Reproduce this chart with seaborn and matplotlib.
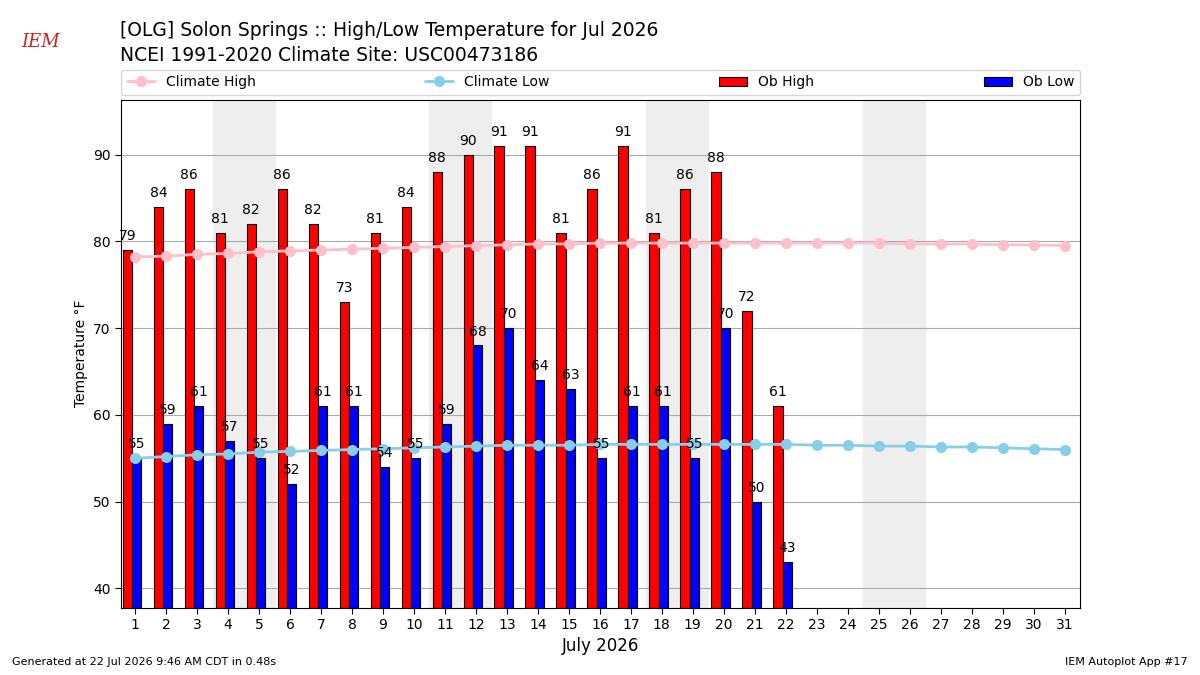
import numpy as np
import pandas as pd
import matplotlib
matplotlib.use('Agg')
import matplotlib.pyplot as plt
import seaborn as sns

days = np.arange(1, 32)
ob_days = np.arange(1, 23)
ob_high = [79, 84, 86, 81, 82, 86, 82, 73, 81, 84, 88, 90, 91, 91, 81, 86, 91, 81, 86, 88, 72, 61]
ob_low = [55, 59, 61, 57, 55, 52, 61, 61, 54, 55, 59, 68, 70, 64, 63, 55, 61, 61, 55, 70, 50, 43]
clim_high = [78.2, 78.3, 78.5, 78.6, 78.8, 78.9, 79.0, 79.1, 79.2, 79.3, 79.4, 79.5, 79.6, 79.7, 79.7, 79.8,
             79.8, 79.8, 79.8, 79.8, 79.8, 79.8, 79.8, 79.8, 79.8, 79.7, 79.7, 79.7, 79.6, 79.6, 79.5]
clim_low = [55.0, 55.2, 55.4, 55.5, 55.7, 55.8, 55.9, 56.0, 56.1, 56.2, 56.3, 56.4, 56.5, 56.5, 56.5, 56.6,
            56.6, 56.6, 56.6, 56.6, 56.6, 56.6, 56.5, 56.5, 56.4, 56.4, 56.3, 56.3, 56.2, 56.1, 56.0]
weekends = [4, 11, 18, 25]

sns.set_style('white')
plt.rcParams.update({'text.color': 'black', 'axes.labelcolor': 'black',
                     'xtick.color': 'black', 'ytick.color': 'black'})
fig = plt.figure(figsize=(12, 6.75), dpi=100)
ax = fig.add_axes([0.101, 0.1, 0.799, 0.752])

for w in weekends:
    ax.axvspan(w - 0.5, w + 1.5, color='#eeeeee', zorder=0)
ax.grid(axis='y', color='#aaaaaa', lw=0.8, zorder=1)
ax.set_axisbelow(True)

df = pd.DataFrame({'day': days, 'hi': clim_high, 'lo': clim_low})
sns.lineplot(data=df, x='day', y='hi', color='pink', marker='o', markersize=8, markeredgewidth=0,
             lw=2, ax=ax, label='Climate High', zorder=3)
sns.lineplot(data=df, x='day', y='lo', color='skyblue', marker='o', markersize=8, markeredgewidth=0,
             lw=2, ax=ax, label='Climate Low', zorder=3)

ax.bar(ob_days - 0.4, ob_high, 0.3, align='edge', color='red', edgecolor='k', lw=0.8, label='Ob High', zorder=2)
ax.bar(ob_days - 0.1, ob_low, 0.3, align='edge', color='blue', edgecolor='k', lw=0.8, label='Ob Low', zorder=2)
for d, v in zip(ob_days, ob_high):
    ax.text(d - 0.25, v + 0.8, str(v), ha='center', va='bottom', fontsize=10, zorder=5)
for d, v in zip(ob_days, ob_low):
    ax.text(d + 0.05, v + 0.8, str(v), ha='center', va='bottom', fontsize=10, zorder=5)

ax.set_xlim(0.55, 31.5)
ax.set_ylim(37.8, 96.3)
ax.set_xticks(days)
ax.set_yticks([40, 50, 60, 70, 80, 90])
ax.set_xlabel('July 2026', fontsize=12)
ax.set_ylabel('Temperature °F')
for s in ax.spines.values():
    s.set_color('black')
ax.tick_params(axis='both', length=4, color='black', left=True, bottom=True)

ax.legend(loc='lower left', bbox_to_anchor=(0, 1.01, 1, 0.05), ncol=4, mode='expand', fontsize=10,
          borderaxespad=0)

fig.text(0.1, 0.955, '[OLG] Solon Springs :: High/Low Temperature for Jul 2026', fontsize=13.5, va='center')
fig.text(0.1, 0.918, 'NCEI 1991-2020 Climate Site: USC00473186', fontsize=13.5, va='center')
fig.text(0.018, 0.93, 'IEM', color='#cc2222', fontsize=13, style='italic', family='serif')
fig.text(0.01, 0.015, 'Generated at 22 Jul 2026 9:46 AM CDT in 0.48s', fontsize=8)
fig.text(0.99, 0.015, 'IEM Autoplot App #17', fontsize=8, ha='right')

fig.savefig('out.png', dpi=100)
